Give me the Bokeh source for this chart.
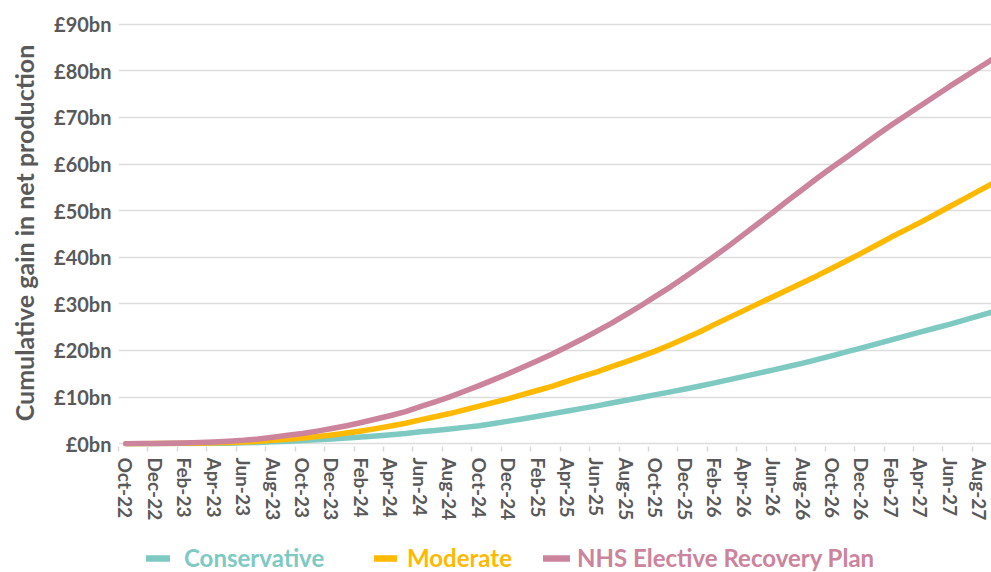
from bokeh.plotting import figure
from bokeh.models import Range1d, FixedTicker, Legend, LegendItem
from bokeh.layouts import column
from bokeh.embed import file_html
from bokeh.resources import INLINE

# Months since Oct-22 (Oct-22 .. Sep-27)
month_index = list(range(60))

tick_labels = ["Oct-22", "Dec-22", "Feb-23", "Apr-23", "Jun-23", "Aug-23", "Oct-23", "Dec-23",
               "Feb-24", "Apr-24", "Jun-24", "Aug-24", "Oct-24", "Dec-24", "Feb-25", "Apr-25",
               "Jun-25", "Aug-25", "Oct-25", "Dec-25", "Feb-26", "Apr-26", "Jun-26", "Aug-26",
               "Oct-26", "Dec-26", "Feb-27", "Apr-27", "Jun-27", "Aug-27"]

y_ticks = [0, 10, 20, 30, 40, 50, 60, 70, 80, 90]
y_tick_labels = ["£0bn", "£10bn", "£20bn", "£30bn", "£40bn", "£50bn", "£60bn", "£70bn", "£80bn", "£90bn"]

conservative = [0.0, 0.0, 0.01, 0.02, 0.03, 0.05, 0.08, 0.12, 0.18, 0.27,
                0.41, 0.53, 0.67, 0.83, 1.01, 1.21, 1.43, 1.67, 1.93, 2.2,
                2.55, 2.85, 3.17, 3.5, 3.85, 4.35, 4.85, 5.35, 5.9, 6.45,
                7.02, 7.57, 8.12, 8.72, 9.32, 9.92, 10.52, 11.12, 11.72, 12.37,
                13.05, 13.75, 14.45, 15.15, 15.85, 16.55, 17.3, 18.1, 18.9, 19.75,
                20.57, 21.42, 22.27, 23.12, 23.97, 24.82, 25.67, 26.57, 27.47, 28.37]

moderate = [0.0, 0.01, 0.03, 0.05, 0.08, 0.12, 0.18, 0.26, 0.37, 0.52,
            0.76, 0.98, 1.23, 1.53, 1.88, 2.28, 2.73, 3.23, 3.78, 4.38,
            5.12, 5.77, 6.47, 7.27, 8.07, 8.87, 9.67, 10.57, 11.47, 12.37,
            13.42, 14.42, 15.42, 16.52, 17.62, 18.72, 19.92, 21.22, 22.62, 24.02,
            25.6, 27.1, 28.6, 30.1, 31.6, 33.1, 34.6, 36.1, 37.7, 39.3,
            40.93, 42.63, 44.33, 45.93, 47.53, 49.23, 50.93, 52.63, 54.33, 56.05]

nhs_plan = [0.0, 0.02, 0.05, 0.1, 0.16, 0.26, 0.38, 0.53, 0.72, 1.0,
            1.4, 1.8, 2.2, 2.7, 3.25, 3.85, 4.55, 5.3, 6.05, 6.9,
            7.95, 8.95, 10.05, 11.25, 12.45, 13.75, 15.05, 16.45, 17.85, 19.3,
            20.85, 22.45, 24.15, 25.85, 27.75, 29.65, 31.65, 33.65, 35.8, 38.0,
            40.25, 42.55, 44.95, 47.35, 49.75, 52.25, 54.65, 57.05, 59.35, 61.55,
            63.85, 66.15, 68.35, 70.45, 72.55, 74.65, 76.75, 78.75, 80.75, 82.7]

series_names = ["Conservative", "Moderate", "NHS Elective Recovery Plan"]
series_colors = ["#7ECAC3", "#FFB900", "#CC839C"]
series_values = [conservative, moderate, nhs_plan]

FONT = "Lato"
GREY = "#595959"
LINE_W = 5.5

p = figure(width=991, height=528,
           x_range=Range1d(-0.5, 58.8), y_range=Range1d(-0.6, 91),
           output_backend="svg", toolbar_location=None,
           min_border_left=118, min_border_right=0,
           min_border_top=19, min_border_bottom=82)
p.outline_line_color = None

# grid
p.xgrid.visible = False
p.ygrid.ticker = FixedTicker(ticks=y_ticks)
p.ygrid.grid_line_color = "#DDDDDD"
p.ygrid.grid_line_width = 1.6

# x axis
major_x = [2 * i for i in range(len(tick_labels))]
p.xaxis.ticker = FixedTicker(ticks=major_x, minor_ticks=[t - 0.5 for t in major_x])
p.xaxis.major_label_overrides = {t: lab for t, lab in zip(major_x, tick_labels)}
p.xaxis.major_label_orientation = "vertical"
p.xaxis.major_tick_line_color = None
p.xaxis.minor_tick_line_color = "#D9D9D9"
p.xaxis.minor_tick_line_width = 1.5
p.xaxis.minor_tick_in = 0
p.xaxis.minor_tick_out = 5
p.xaxis.axis_line_color = None
p.xaxis.major_label_standoff = 5
p.xaxis.major_label_text_font = FONT
p.xaxis.major_label_text_font_size = "19px"
p.xaxis.major_label_text_font_style = "bold"
p.xaxis.major_label_text_color = GREY

# y axis
p.yaxis.ticker = FixedTicker(ticks=y_ticks)
p.yaxis.major_label_overrides = {t: lab for t, lab in zip(y_ticks, y_tick_labels)}
p.yaxis.major_tick_line_color = None
p.yaxis.minor_tick_line_color = None
p.yaxis.axis_line_color = None
p.yaxis.major_label_standoff = 1
p.yaxis.major_label_text_font = FONT
p.yaxis.major_label_text_font_size = "20px"
p.yaxis.major_label_text_font_style = "bold"
p.yaxis.major_label_text_color = GREY
p.yaxis.axis_label = "Cumulative gain in net production"
p.yaxis.axis_label_text_font = FONT
p.yaxis.axis_label_text_font_size = "25px"
p.yaxis.axis_label_text_font_style = "bold"
p.yaxis.axis_label_text_color = GREY
p.yaxis.axis_label_standoff = 12

for vals, col in zip(series_values, series_colors):
    p.line(month_index, vals, line_color=col, line_width=LINE_W,
           line_cap="round", line_join="round")

# Legend strip (separate figure so each entry can have its own text colour);
# its frame is aligned with the main frame (left edge at x=118).
lf = figure(width=991, height=44, x_range=Range1d(1000, 1001), y_range=Range1d(1000, 1001),
            output_backend="svg", toolbar_location=None,
            x_axis_type=None, y_axis_type=None,
            min_border_left=0, min_border_right=0, min_border_top=0, min_border_bottom=0)
lf.outline_line_color = None
lf.xgrid.visible = False
lf.ygrid.visible = False

legend_x = [28, 256, 425]
glyph_w = [24, 23, 27]
standoff = [14, 10, 7]
for vals, name, col, lx, gw, so in zip(series_values, series_names, series_colors,
                                       legend_x, glyph_w, standoff):
    r = lf.line(month_index, vals, line_color=col, line_width=LINE_W + 1,
                line_cap="round", line_join="round")
    leg = Legend(items=[LegendItem(label=name, renderers=[r])],
                 location=(lx, 0), orientation="horizontal",
                 label_text_color=col, label_text_font=FONT,
                 label_text_font_size="24px", label_text_font_style="bold",
                 border_line_color=None, background_fill_alpha=0,
                 padding=0, margin=0, glyph_width=gw, glyph_height=22,
                 label_standoff=so, label_height=22, spacing=0)
    lf.add_layout(leg, "center")

layout = column(p, lf, spacing=0)
open("out.html", "w").write(file_html(layout, INLINE))
